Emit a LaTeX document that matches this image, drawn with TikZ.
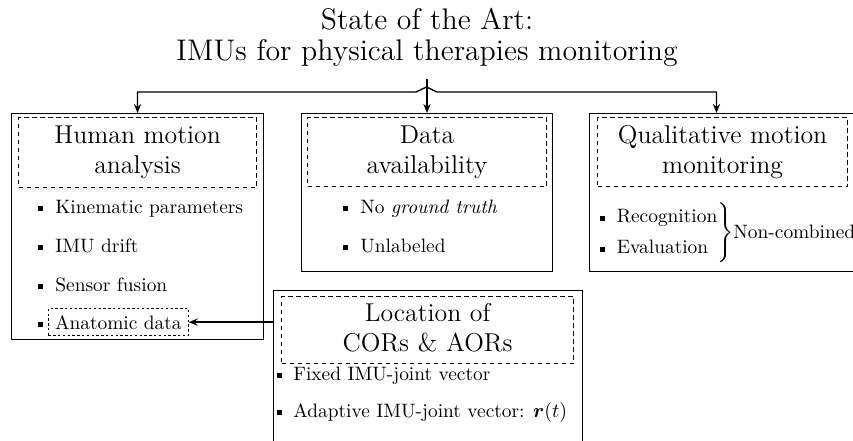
\documentclass[tikz,border=0pt]{standalone}
\usepackage{amsmath}
\usetikzlibrary{arrows.meta}
\newcommand{\itm}[1][6pt]{\rule[0.9pt]{2.5pt}{2.5pt}\hspace{#1}}

\begin{document}
\begin{tikzpicture}[
  x=0.5pt, y=-0.5pt,
  >={Stealth[length=4.5pt,width=3.6pt]},
  box/.style={draw, line width=0.5pt, inner sep=0pt, anchor=north west},
  head/.style={draw, dash pattern=on 2.4pt off 1.6pt, line width=0.6pt,
    inner sep=0pt, anchor=north west, align=center,
    minimum width=#1, text width=#1, font=\fontsize{12.9}{15}\selectfont},
  item/.style={anchor=base west, inner sep=0pt, font=\fontsize{9.7}{12}\selectfont},
  link/.style={line width=0.7pt}]
\useasboundingbox (0,0) rectangle (853,440);
\node [anchor=north, inner sep=0pt, align=center,
  font=\fontsize{14.9}{15.5}\selectfont] (t) at (427,8)
  {State of the Art:\\ IMUs for physical therapies monitoring};
%% outer boxes
\node [box, minimum width=126pt, minimum height=113pt] (h) at (11,113) {};
\node [box, minimum width=125.5pt, minimum height=79pt] (d) at (301,113) {};
\node [box, minimum width=133pt, minimum height=79pt] (q) at (589,113) {};
\node [box, minimum width=154.5pt, minimum height=78pt] (l) at (273,290) {};
%% headings
\node [head=119pt, minimum height=35pt] (hh) at (18,117) {Human motion\\ analysis};
\node [head=119.5pt, minimum height=34.5pt] (dh) at (307,117) {Data\\ availability};
\node [head=125pt, minimum height=34.5pt] (qh) at (597,117) {Qualitative motion\\ monitoring};
\node [head=146pt, minimum height=33.5pt] (lh) at (281,296) {Location of\\ CORs \& AORs\vphantom{y}};
%% items
\node [item] (h1) at (38,213) {\itm Kinematic parameters};
\node [item] (h2) at (38,252) {\itm IMU drift};
\node [item] (h3) at (38,291) {\itm Sensor fusion};
\node [item] (h4) at (38,329) {\itm[0pt]};
\node [item, draw, dash pattern=on 1.2pt off 1.2pt, inner sep=3.3pt] (ana) at (48,329) {Anatomic data};
\node [item] (d1) at (343,213) {\itm No \emph{ground truth}};
\node [item] (d2) at (343,252) {\itm Unlabeled};
\node [item, anchor=west] (q1) at (597,233)
  {$\left.\begin{tabular}{@{}l@{}}\itm Recognition\\[3.5pt] \itm Evaluation\end{tabular}\right\}$Non-combined};
\node [item] (l1) at (276.5,380) {\itm[2.5pt] Fixed IMU-joint vector};
\node [item] (l2) at (276.5,417) {\itm[2.5pt] Adaptive IMU-joint vector: $\boldsymbol{r}(t)$};
%% connectors
\coordinate (jl) at (416,92);
\coordinate (jt) at (426.5,87);
\coordinate (jr) at (437,92);
\draw [link,->] ([yshift=-5.7pt]t.south) -- (d.north);
\draw [link,<->] (h.north) |- (jl) -- (jt) -- (jr) -| ([xshift=-3pt]q.north);
\draw [link,->] (l.west |- ana.east) -- (ana.east);
\end{tikzpicture}
\end{document}
